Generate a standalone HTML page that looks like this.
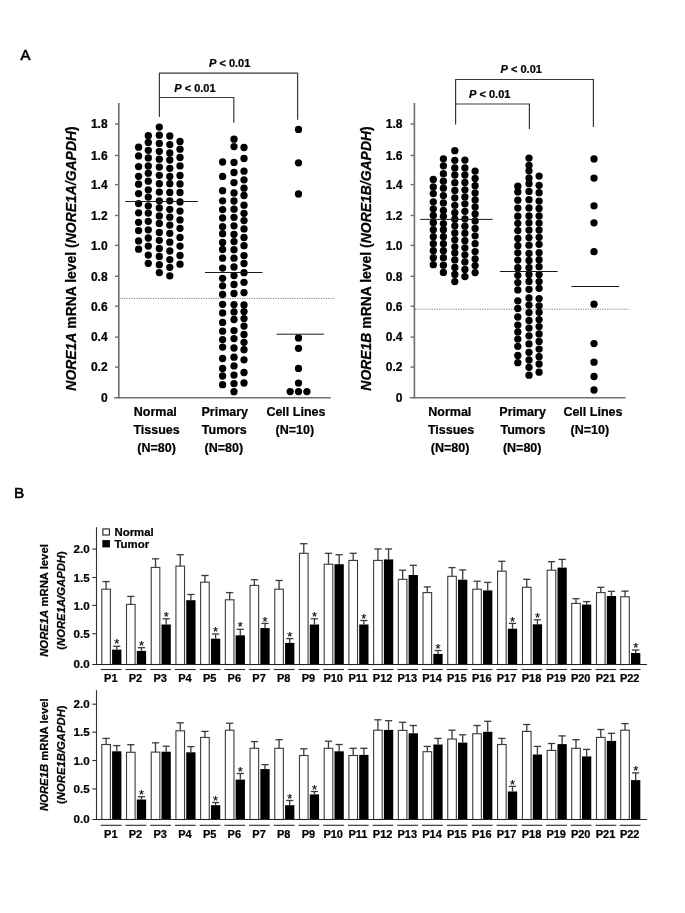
<!DOCTYPE html>
<html><head><meta charset="utf-8"><style>
html,body{margin:0;padding:0;background:#fff;}
svg{display:block;font-family:"Liberation Sans", sans-serif;will-change:transform;}
text{stroke:#000;stroke-width:0.22px;}
</style></head><body>
<svg width="685" height="913" viewBox="0 0 685 913">
<rect width="685" height="913" fill="#fff"/>
<text x="20.60" y="59.90" font-size="14.8" text-anchor="start" font-weight="normal" font-style="normal" style="stroke-width:0.65px">A</text>
<line x1="118.80" y1="103.00" x2="118.80" y2="398.40" stroke="#6e6e6e" stroke-width="1.6" />
<line x1="114.20" y1="397.70" x2="330.70" y2="397.70" stroke="#6e6e6e" stroke-width="1.6" />
<text x="107.60" y="401.60" font-size="12" text-anchor="end" font-weight="bold" font-style="normal" >0</text>
<line x1="115.00" y1="367.10" x2="118.80" y2="367.10" stroke="#6e6e6e" stroke-width="1.4" />
<text x="107.60" y="371.40" font-size="12" text-anchor="end" font-weight="bold" font-style="normal" >0.2</text>
<line x1="115.00" y1="337.10" x2="118.80" y2="337.10" stroke="#6e6e6e" stroke-width="1.4" />
<text x="107.60" y="341.40" font-size="12" text-anchor="end" font-weight="bold" font-style="normal" >0.4</text>
<line x1="115.00" y1="306.20" x2="118.80" y2="306.20" stroke="#6e6e6e" stroke-width="1.4" />
<text x="107.60" y="310.50" font-size="12" text-anchor="end" font-weight="bold" font-style="normal" >0.6</text>
<line x1="115.00" y1="276.30" x2="118.80" y2="276.30" stroke="#6e6e6e" stroke-width="1.4" />
<text x="107.60" y="280.60" font-size="12" text-anchor="end" font-weight="bold" font-style="normal" >0.8</text>
<line x1="115.00" y1="245.40" x2="118.80" y2="245.40" stroke="#6e6e6e" stroke-width="1.4" />
<text x="107.60" y="249.70" font-size="12" text-anchor="end" font-weight="bold" font-style="normal" >1.0</text>
<line x1="115.00" y1="215.50" x2="118.80" y2="215.50" stroke="#6e6e6e" stroke-width="1.4" />
<text x="107.60" y="219.80" font-size="12" text-anchor="end" font-weight="bold" font-style="normal" >1.2</text>
<line x1="115.00" y1="184.60" x2="118.80" y2="184.60" stroke="#6e6e6e" stroke-width="1.4" />
<text x="107.60" y="188.90" font-size="12" text-anchor="end" font-weight="bold" font-style="normal" >1.4</text>
<line x1="115.00" y1="155.50" x2="118.80" y2="155.50" stroke="#6e6e6e" stroke-width="1.4" />
<text x="107.60" y="159.80" font-size="12" text-anchor="end" font-weight="bold" font-style="normal" >1.6</text>
<line x1="115.00" y1="124.10" x2="118.80" y2="124.10" stroke="#6e6e6e" stroke-width="1.4" />
<text x="107.60" y="128.40" font-size="12" text-anchor="end" font-weight="bold" font-style="normal" >1.8</text>
<text transform="translate(75.8,258.5) rotate(-90)" font-size="13.95" text-anchor="middle" font-weight="bold"><tspan font-style="italic">NORE1A</tspan> mRNA level (<tspan font-style="italic">NORE1A/GAPDH</tspan>)</text>
<line x1="119.40" y1="298.40" x2="334.20" y2="298.40" stroke="#555" stroke-width="1" stroke-dasharray="1.2,1.2" opacity="0.75"/>
<polyline points="159.4,117 159.4,73.2 297.6,73.2 297.6,119.8" fill="none" stroke="#3a3a3a" stroke-width="1.2"/>
<text x="209" y="66.8" font-size="11" font-weight="bold"><tspan font-style="italic">P</tspan> &lt; 0.01</text>
<polyline points="159.4,97.5 159.4,97.5 233.8,97.5 233.8,122.7" fill="none" stroke="#3a3a3a" stroke-width="1.2"/>
<text x="174.3" y="91.8" font-size="11" font-weight="bold"><tspan font-style="italic">P</tspan> &lt; 0.01</text>
<g fill="#000">
<circle cx="138.60" cy="147.20" r="3.65"/>
<circle cx="138.60" cy="155.90" r="3.65"/>
<circle cx="138.60" cy="166.60" r="3.65"/>
<circle cx="138.60" cy="176.30" r="3.65"/>
<circle cx="138.60" cy="184.20" r="3.65"/>
<circle cx="138.60" cy="193.60" r="3.65"/>
<circle cx="138.60" cy="203.60" r="3.65"/>
<circle cx="138.60" cy="212.80" r="3.65"/>
<circle cx="138.60" cy="222.30" r="3.65"/>
<circle cx="138.60" cy="230.60" r="3.65"/>
<circle cx="138.60" cy="240.90" r="3.65"/>
<circle cx="138.60" cy="249.20" r="3.65"/>
<circle cx="148.30" cy="135.70" r="3.65"/>
<circle cx="148.30" cy="142.40" r="3.65"/>
<circle cx="148.30" cy="150.30" r="3.65"/>
<circle cx="148.30" cy="157.90" r="3.65"/>
<circle cx="148.30" cy="165.90" r="3.65"/>
<circle cx="148.30" cy="173.20" r="3.65"/>
<circle cx="148.30" cy="181.20" r="3.65"/>
<circle cx="148.30" cy="189.80" r="3.65"/>
<circle cx="148.30" cy="197.10" r="3.65"/>
<circle cx="148.30" cy="205.80" r="3.65"/>
<circle cx="148.30" cy="213.10" r="3.65"/>
<circle cx="148.30" cy="221.30" r="3.65"/>
<circle cx="148.30" cy="229.80" r="3.65"/>
<circle cx="148.30" cy="238.00" r="3.65"/>
<circle cx="148.30" cy="246.10" r="3.65"/>
<circle cx="148.30" cy="255.10" r="3.65"/>
<circle cx="148.30" cy="263.30" r="3.65"/>
<circle cx="159.30" cy="127.10" r="3.65"/>
<circle cx="159.30" cy="135.20" r="3.65"/>
<circle cx="159.30" cy="143.40" r="3.65"/>
<circle cx="159.30" cy="151.30" r="3.65"/>
<circle cx="159.30" cy="159.20" r="3.65"/>
<circle cx="159.30" cy="167.10" r="3.65"/>
<circle cx="159.30" cy="175.30" r="3.65"/>
<circle cx="159.30" cy="183.70" r="3.65"/>
<circle cx="159.30" cy="192.10" r="3.65"/>
<circle cx="159.30" cy="200.80" r="3.65"/>
<circle cx="159.30" cy="207.90" r="3.65"/>
<circle cx="159.30" cy="215.90" r="3.65"/>
<circle cx="159.30" cy="223.40" r="3.65"/>
<circle cx="159.30" cy="232.40" r="3.65"/>
<circle cx="159.30" cy="240.30" r="3.65"/>
<circle cx="159.30" cy="248.50" r="3.65"/>
<circle cx="159.30" cy="256.50" r="3.65"/>
<circle cx="159.30" cy="264.70" r="3.65"/>
<circle cx="159.30" cy="272.60" r="3.65"/>
<circle cx="169.80" cy="136.00" r="3.65"/>
<circle cx="169.80" cy="144.60" r="3.65"/>
<circle cx="169.80" cy="153.00" r="3.65"/>
<circle cx="169.80" cy="160.00" r="3.65"/>
<circle cx="169.80" cy="168.30" r="3.65"/>
<circle cx="169.80" cy="176.50" r="3.65"/>
<circle cx="169.80" cy="183.70" r="3.65"/>
<circle cx="169.80" cy="192.40" r="3.65"/>
<circle cx="169.80" cy="200.80" r="3.65"/>
<circle cx="169.80" cy="209.30" r="3.65"/>
<circle cx="169.80" cy="217.20" r="3.65"/>
<circle cx="169.80" cy="225.10" r="3.65"/>
<circle cx="169.80" cy="233.30" r="3.65"/>
<circle cx="169.80" cy="242.20" r="3.65"/>
<circle cx="169.80" cy="251.00" r="3.65"/>
<circle cx="169.80" cy="259.60" r="3.65"/>
<circle cx="169.80" cy="267.30" r="3.65"/>
<circle cx="169.80" cy="275.80" r="3.65"/>
<circle cx="180.00" cy="141.40" r="3.65"/>
<circle cx="180.00" cy="149.20" r="3.65"/>
<circle cx="180.00" cy="157.40" r="3.65"/>
<circle cx="180.00" cy="165.90" r="3.65"/>
<circle cx="180.00" cy="175.50" r="3.65"/>
<circle cx="180.00" cy="183.90" r="3.65"/>
<circle cx="180.00" cy="192.40" r="3.65"/>
<circle cx="180.00" cy="201.90" r="3.65"/>
<circle cx="180.00" cy="211.10" r="3.65"/>
<circle cx="180.00" cy="219.90" r="3.65"/>
<circle cx="180.00" cy="228.30" r="3.65"/>
<circle cx="180.00" cy="237.40" r="3.65"/>
<circle cx="180.00" cy="246.10" r="3.65"/>
<circle cx="180.00" cy="255.50" r="3.65"/>
<circle cx="180.00" cy="264.20" r="3.65"/>
<circle cx="222.60" cy="162.00" r="3.65"/>
<circle cx="222.60" cy="176.40" r="3.65"/>
<circle cx="222.60" cy="190.70" r="3.65"/>
<circle cx="222.60" cy="200.80" r="3.65"/>
<circle cx="222.60" cy="209.60" r="3.65"/>
<circle cx="222.60" cy="218.00" r="3.65"/>
<circle cx="222.60" cy="226.70" r="3.65"/>
<circle cx="222.60" cy="233.70" r="3.65"/>
<circle cx="222.60" cy="242.50" r="3.65"/>
<circle cx="222.60" cy="249.50" r="3.65"/>
<circle cx="222.60" cy="258.20" r="3.65"/>
<circle cx="222.60" cy="268.10" r="3.65"/>
<circle cx="222.60" cy="278.30" r="3.65"/>
<circle cx="222.60" cy="285.80" r="3.65"/>
<circle cx="222.60" cy="294.50" r="3.65"/>
<circle cx="222.60" cy="304.30" r="3.65"/>
<circle cx="222.60" cy="312.90" r="3.65"/>
<circle cx="222.60" cy="322.40" r="3.65"/>
<circle cx="222.60" cy="331.20" r="3.65"/>
<circle cx="222.60" cy="339.60" r="3.65"/>
<circle cx="222.60" cy="347.10" r="3.65"/>
<circle cx="222.60" cy="358.50" r="3.65"/>
<circle cx="222.60" cy="368.50" r="3.65"/>
<circle cx="222.60" cy="376.00" r="3.65"/>
<circle cx="222.60" cy="384.70" r="3.65"/>
<circle cx="234.00" cy="139.20" r="3.65"/>
<circle cx="234.00" cy="146.60" r="3.65"/>
<circle cx="234.00" cy="162.40" r="3.65"/>
<circle cx="234.00" cy="172.50" r="3.65"/>
<circle cx="234.00" cy="182.60" r="3.65"/>
<circle cx="234.00" cy="192.90" r="3.65"/>
<circle cx="234.00" cy="201.00" r="3.65"/>
<circle cx="234.00" cy="209.20" r="3.65"/>
<circle cx="234.00" cy="217.30" r="3.65"/>
<circle cx="234.00" cy="225.80" r="3.65"/>
<circle cx="234.00" cy="234.30" r="3.65"/>
<circle cx="234.00" cy="241.60" r="3.65"/>
<circle cx="234.00" cy="249.70" r="3.65"/>
<circle cx="234.00" cy="258.20" r="3.65"/>
<circle cx="234.00" cy="267.00" r="3.65"/>
<circle cx="234.00" cy="275.60" r="3.65"/>
<circle cx="234.00" cy="284.50" r="3.65"/>
<circle cx="234.00" cy="293.50" r="3.65"/>
<circle cx="234.00" cy="304.60" r="3.65"/>
<circle cx="234.00" cy="311.90" r="3.65"/>
<circle cx="234.00" cy="319.50" r="3.65"/>
<circle cx="234.00" cy="330.60" r="3.65"/>
<circle cx="234.00" cy="338.60" r="3.65"/>
<circle cx="234.00" cy="348.00" r="3.65"/>
<circle cx="234.00" cy="357.20" r="3.65"/>
<circle cx="234.00" cy="365.90" r="3.65"/>
<circle cx="234.00" cy="375.10" r="3.65"/>
<circle cx="234.00" cy="383.60" r="3.65"/>
<circle cx="234.00" cy="391.70" r="3.65"/>
<circle cx="244.00" cy="147.50" r="3.65"/>
<circle cx="244.00" cy="158.50" r="3.65"/>
<circle cx="244.00" cy="171.20" r="3.65"/>
<circle cx="244.00" cy="179.80" r="3.65"/>
<circle cx="244.00" cy="188.20" r="3.65"/>
<circle cx="244.00" cy="195.50" r="3.65"/>
<circle cx="244.00" cy="205.20" r="3.65"/>
<circle cx="244.00" cy="213.30" r="3.65"/>
<circle cx="244.00" cy="220.60" r="3.65"/>
<circle cx="244.00" cy="228.90" r="3.65"/>
<circle cx="244.00" cy="237.50" r="3.65"/>
<circle cx="244.00" cy="245.70" r="3.65"/>
<circle cx="244.00" cy="255.60" r="3.65"/>
<circle cx="244.00" cy="263.50" r="3.65"/>
<circle cx="244.00" cy="272.70" r="3.65"/>
<circle cx="244.00" cy="282.30" r="3.65"/>
<circle cx="244.00" cy="292.60" r="3.65"/>
<circle cx="244.00" cy="304.90" r="3.65"/>
<circle cx="244.00" cy="311.60" r="3.65"/>
<circle cx="244.00" cy="318.60" r="3.65"/>
<circle cx="244.00" cy="326.10" r="3.65"/>
<circle cx="244.00" cy="334.50" r="3.65"/>
<circle cx="244.00" cy="342.30" r="3.65"/>
<circle cx="244.00" cy="349.70" r="3.65"/>
<circle cx="244.00" cy="359.80" r="3.65"/>
<circle cx="244.00" cy="372.50" r="3.65"/>
<circle cx="244.00" cy="383.00" r="3.65"/>
<circle cx="298.50" cy="129.40" r="3.65"/>
<circle cx="298.50" cy="162.80" r="3.65"/>
<circle cx="298.50" cy="194.00" r="3.65"/>
<circle cx="298.50" cy="338.00" r="3.65"/>
<circle cx="298.50" cy="348.30" r="3.65"/>
<circle cx="298.50" cy="368.40" r="3.65"/>
<circle cx="298.50" cy="383.10" r="3.65"/>
<circle cx="298.50" cy="391.60" r="3.65"/>
<circle cx="290.20" cy="391.60" r="3.65"/>
<circle cx="306.90" cy="391.60" r="3.65"/>
</g>
<line x1="125.30" y1="201.50" x2="198.00" y2="201.50" stroke="#1a1a1a" stroke-width="1.0" />
<line x1="205.00" y1="272.50" x2="262.50" y2="272.50" stroke="#1a1a1a" stroke-width="1.0" />
<line x1="276.60" y1="334.20" x2="323.90" y2="334.20" stroke="#1a1a1a" stroke-width="1.0" />
<text x="155.30" y="415.80" font-size="12.5" text-anchor="middle" font-weight="bold" font-style="normal" >Normal</text>
<text x="156.60" y="434.10" font-size="12.5" text-anchor="middle" font-weight="bold" font-style="normal" >Tissues</text>
<text x="156.60" y="452.20" font-size="12.5" text-anchor="middle" font-weight="bold" font-style="normal" >(N=80)</text>
<text x="224.80" y="415.80" font-size="12.5" text-anchor="middle" font-weight="bold" font-style="normal" >Primary</text>
<text x="224.30" y="434.10" font-size="12.5" text-anchor="middle" font-weight="bold" font-style="normal" >Tumors</text>
<text x="223.80" y="452.20" font-size="12.5" text-anchor="middle" font-weight="bold" font-style="normal" >(N=80)</text>
<text x="295.90" y="415.80" font-size="12.5" text-anchor="middle" font-weight="bold" font-style="normal" >Cell Lines</text>
<text x="294.90" y="434.10" font-size="12.5" text-anchor="middle" font-weight="bold" font-style="normal" >(N=10)</text>
<line x1="414.40" y1="103.00" x2="414.40" y2="398.40" stroke="#6e6e6e" stroke-width="1.6" />
<line x1="409.80" y1="397.70" x2="625.60" y2="397.70" stroke="#6e6e6e" stroke-width="1.6" />
<text x="402.40" y="401.60" font-size="12" text-anchor="end" font-weight="bold" font-style="normal" >0</text>
<line x1="410.60" y1="367.10" x2="414.40" y2="367.10" stroke="#6e6e6e" stroke-width="1.4" />
<text x="402.40" y="371.40" font-size="12" text-anchor="end" font-weight="bold" font-style="normal" >0.2</text>
<line x1="410.60" y1="337.10" x2="414.40" y2="337.10" stroke="#6e6e6e" stroke-width="1.4" />
<text x="402.40" y="341.40" font-size="12" text-anchor="end" font-weight="bold" font-style="normal" >0.4</text>
<line x1="410.60" y1="306.20" x2="414.40" y2="306.20" stroke="#6e6e6e" stroke-width="1.4" />
<text x="402.40" y="310.50" font-size="12" text-anchor="end" font-weight="bold" font-style="normal" >0.6</text>
<line x1="410.60" y1="276.30" x2="414.40" y2="276.30" stroke="#6e6e6e" stroke-width="1.4" />
<text x="402.40" y="280.60" font-size="12" text-anchor="end" font-weight="bold" font-style="normal" >0.8</text>
<line x1="410.60" y1="245.40" x2="414.40" y2="245.40" stroke="#6e6e6e" stroke-width="1.4" />
<text x="402.40" y="249.70" font-size="12" text-anchor="end" font-weight="bold" font-style="normal" >1.0</text>
<line x1="410.60" y1="215.50" x2="414.40" y2="215.50" stroke="#6e6e6e" stroke-width="1.4" />
<text x="402.40" y="219.80" font-size="12" text-anchor="end" font-weight="bold" font-style="normal" >1.2</text>
<line x1="410.60" y1="184.60" x2="414.40" y2="184.60" stroke="#6e6e6e" stroke-width="1.4" />
<text x="402.40" y="188.90" font-size="12" text-anchor="end" font-weight="bold" font-style="normal" >1.4</text>
<line x1="410.60" y1="155.50" x2="414.40" y2="155.50" stroke="#6e6e6e" stroke-width="1.4" />
<text x="402.40" y="159.80" font-size="12" text-anchor="end" font-weight="bold" font-style="normal" >1.6</text>
<line x1="410.60" y1="124.10" x2="414.40" y2="124.10" stroke="#6e6e6e" stroke-width="1.4" />
<text x="402.40" y="128.40" font-size="12" text-anchor="end" font-weight="bold" font-style="normal" >1.8</text>
<text transform="translate(370.6,258.5) rotate(-90)" font-size="13.95" text-anchor="middle" font-weight="bold"><tspan font-style="italic">NORE1B</tspan> mRNA level (<tspan font-style="italic">NORE1B/GAPDH</tspan>)</text>
<line x1="415.00" y1="309.20" x2="629.30" y2="309.20" stroke="#555" stroke-width="1" stroke-dasharray="1.2,1.2" opacity="0.75"/>
<polyline points="455.6,124.5 455.6,79.5 593.4,79.5 593.4,127" fill="none" stroke="#3a3a3a" stroke-width="1.2"/>
<text x="500.6" y="72.9" font-size="11" font-weight="bold"><tspan font-style="italic">P</tspan> &lt; 0.01</text>
<polyline points="455.6,104 455.6,104 529.4,104 529.4,129" fill="none" stroke="#3a3a3a" stroke-width="1.2"/>
<text x="469.1" y="97.7" font-size="11" font-weight="bold"><tspan font-style="italic">P</tspan> &lt; 0.01</text>
<g fill="#000">
<circle cx="433.30" cy="179.40" r="3.65"/>
<circle cx="433.30" cy="186.90" r="3.65"/>
<circle cx="433.30" cy="193.60" r="3.65"/>
<circle cx="433.30" cy="201.80" r="3.65"/>
<circle cx="433.30" cy="208.80" r="3.65"/>
<circle cx="433.30" cy="215.40" r="3.65"/>
<circle cx="433.30" cy="222.70" r="3.65"/>
<circle cx="433.30" cy="229.70" r="3.65"/>
<circle cx="433.30" cy="236.70" r="3.65"/>
<circle cx="433.30" cy="243.70" r="3.65"/>
<circle cx="433.30" cy="250.70" r="3.65"/>
<circle cx="433.30" cy="257.70" r="3.65"/>
<circle cx="433.30" cy="264.70" r="3.65"/>
<circle cx="443.40" cy="158.80" r="3.65"/>
<circle cx="443.40" cy="165.80" r="3.65"/>
<circle cx="443.40" cy="173.70" r="3.65"/>
<circle cx="443.40" cy="181.20" r="3.65"/>
<circle cx="443.40" cy="188.20" r="3.65"/>
<circle cx="443.40" cy="195.60" r="3.65"/>
<circle cx="443.40" cy="202.90" r="3.65"/>
<circle cx="443.40" cy="210.50" r="3.65"/>
<circle cx="443.40" cy="216.30" r="3.65"/>
<circle cx="443.40" cy="223.60" r="3.65"/>
<circle cx="443.40" cy="229.70" r="3.65"/>
<circle cx="443.40" cy="236.70" r="3.65"/>
<circle cx="443.40" cy="243.70" r="3.65"/>
<circle cx="443.40" cy="250.70" r="3.65"/>
<circle cx="443.40" cy="257.70" r="3.65"/>
<circle cx="443.40" cy="265.20" r="3.65"/>
<circle cx="443.40" cy="272.40" r="3.65"/>
<circle cx="454.80" cy="150.70" r="3.65"/>
<circle cx="454.80" cy="160.30" r="3.65"/>
<circle cx="454.80" cy="167.90" r="3.65"/>
<circle cx="454.80" cy="175.00" r="3.65"/>
<circle cx="454.80" cy="182.70" r="3.65"/>
<circle cx="454.80" cy="190.40" r="3.65"/>
<circle cx="454.80" cy="197.80" r="3.65"/>
<circle cx="454.80" cy="205.30" r="3.65"/>
<circle cx="454.80" cy="212.70" r="3.65"/>
<circle cx="454.80" cy="219.20" r="3.65"/>
<circle cx="454.80" cy="225.80" r="3.65"/>
<circle cx="454.80" cy="233.00" r="3.65"/>
<circle cx="454.80" cy="239.80" r="3.65"/>
<circle cx="454.80" cy="246.80" r="3.65"/>
<circle cx="454.80" cy="252.90" r="3.65"/>
<circle cx="454.80" cy="259.90" r="3.65"/>
<circle cx="454.80" cy="267.40" r="3.65"/>
<circle cx="454.80" cy="274.40" r="3.65"/>
<circle cx="454.80" cy="281.60" r="3.65"/>
<circle cx="464.90" cy="160.10" r="3.65"/>
<circle cx="464.90" cy="167.90" r="3.65"/>
<circle cx="464.90" cy="175.00" r="3.65"/>
<circle cx="464.90" cy="182.50" r="3.65"/>
<circle cx="464.90" cy="189.80" r="3.65"/>
<circle cx="464.90" cy="196.90" r="3.65"/>
<circle cx="464.90" cy="203.80" r="3.65"/>
<circle cx="464.90" cy="211.30" r="3.65"/>
<circle cx="464.90" cy="218.80" r="3.65"/>
<circle cx="464.90" cy="226.20" r="3.65"/>
<circle cx="464.90" cy="233.20" r="3.65"/>
<circle cx="464.90" cy="240.70" r="3.65"/>
<circle cx="464.90" cy="247.80" r="3.65"/>
<circle cx="464.90" cy="254.80" r="3.65"/>
<circle cx="464.90" cy="261.90" r="3.65"/>
<circle cx="464.90" cy="269.40" r="3.65"/>
<circle cx="464.90" cy="276.60" r="3.65"/>
<circle cx="475.10" cy="171.10" r="3.65"/>
<circle cx="475.10" cy="178.50" r="3.65"/>
<circle cx="475.10" cy="185.70" r="3.65"/>
<circle cx="475.10" cy="193.00" r="3.65"/>
<circle cx="475.10" cy="200.00" r="3.65"/>
<circle cx="475.10" cy="207.00" r="3.65"/>
<circle cx="475.10" cy="214.00" r="3.65"/>
<circle cx="475.10" cy="220.90" r="3.65"/>
<circle cx="475.10" cy="228.40" r="3.65"/>
<circle cx="475.10" cy="235.80" r="3.65"/>
<circle cx="475.10" cy="243.70" r="3.65"/>
<circle cx="475.10" cy="251.60" r="3.65"/>
<circle cx="475.10" cy="259.00" r="3.65"/>
<circle cx="475.10" cy="265.60" r="3.65"/>
<circle cx="475.10" cy="272.60" r="3.65"/>
<circle cx="517.80" cy="186.20" r="3.65"/>
<circle cx="517.80" cy="191.90" r="3.65"/>
<circle cx="517.80" cy="200.20" r="3.65"/>
<circle cx="517.80" cy="208.10" r="3.65"/>
<circle cx="517.80" cy="216.20" r="3.65"/>
<circle cx="517.80" cy="223.30" r="3.65"/>
<circle cx="517.80" cy="230.60" r="3.65"/>
<circle cx="517.80" cy="238.50" r="3.65"/>
<circle cx="517.80" cy="245.70" r="3.65"/>
<circle cx="517.80" cy="252.80" r="3.65"/>
<circle cx="517.80" cy="260.10" r="3.65"/>
<circle cx="517.80" cy="267.70" r="3.65"/>
<circle cx="517.80" cy="275.30" r="3.65"/>
<circle cx="517.80" cy="282.60" r="3.65"/>
<circle cx="517.80" cy="289.90" r="3.65"/>
<circle cx="517.80" cy="300.80" r="3.65"/>
<circle cx="517.80" cy="308.50" r="3.65"/>
<circle cx="517.80" cy="317.00" r="3.65"/>
<circle cx="517.80" cy="325.10" r="3.65"/>
<circle cx="517.80" cy="331.90" r="3.65"/>
<circle cx="517.80" cy="339.10" r="3.65"/>
<circle cx="517.80" cy="346.30" r="3.65"/>
<circle cx="517.80" cy="355.50" r="3.65"/>
<circle cx="517.80" cy="362.70" r="3.65"/>
<circle cx="529.00" cy="158.10" r="3.65"/>
<circle cx="529.00" cy="165.30" r="3.65"/>
<circle cx="529.00" cy="170.80" r="3.65"/>
<circle cx="529.00" cy="178.10" r="3.65"/>
<circle cx="529.00" cy="183.70" r="3.65"/>
<circle cx="529.00" cy="191.40" r="3.65"/>
<circle cx="529.00" cy="199.70" r="3.65"/>
<circle cx="529.00" cy="207.90" r="3.65"/>
<circle cx="529.00" cy="215.90" r="3.65"/>
<circle cx="529.00" cy="222.80" r="3.65"/>
<circle cx="529.00" cy="230.10" r="3.65"/>
<circle cx="529.00" cy="237.60" r="3.65"/>
<circle cx="529.00" cy="245.20" r="3.65"/>
<circle cx="529.00" cy="253.40" r="3.65"/>
<circle cx="529.00" cy="260.50" r="3.65"/>
<circle cx="529.00" cy="267.70" r="3.65"/>
<circle cx="529.00" cy="274.60" r="3.65"/>
<circle cx="529.00" cy="281.40" r="3.65"/>
<circle cx="529.00" cy="289.30" r="3.65"/>
<circle cx="529.00" cy="298.00" r="3.65"/>
<circle cx="529.00" cy="305.10" r="3.65"/>
<circle cx="529.00" cy="312.60" r="3.65"/>
<circle cx="529.00" cy="320.50" r="3.65"/>
<circle cx="529.00" cy="328.10" r="3.65"/>
<circle cx="529.00" cy="335.80" r="3.65"/>
<circle cx="529.00" cy="343.90" r="3.65"/>
<circle cx="529.00" cy="352.30" r="3.65"/>
<circle cx="529.00" cy="360.00" r="3.65"/>
<circle cx="529.00" cy="367.30" r="3.65"/>
<circle cx="529.00" cy="375.20" r="3.65"/>
<circle cx="539.10" cy="176.10" r="3.65"/>
<circle cx="539.10" cy="185.30" r="3.65"/>
<circle cx="539.10" cy="192.70" r="3.65"/>
<circle cx="539.10" cy="201.10" r="3.65"/>
<circle cx="539.10" cy="208.50" r="3.65"/>
<circle cx="539.10" cy="215.90" r="3.65"/>
<circle cx="539.10" cy="223.10" r="3.65"/>
<circle cx="539.10" cy="230.10" r="3.65"/>
<circle cx="539.10" cy="237.30" r="3.65"/>
<circle cx="539.10" cy="244.30" r="3.65"/>
<circle cx="539.10" cy="252.70" r="3.65"/>
<circle cx="539.10" cy="259.70" r="3.65"/>
<circle cx="539.10" cy="266.70" r="3.65"/>
<circle cx="539.10" cy="274.60" r="3.65"/>
<circle cx="539.10" cy="281.60" r="3.65"/>
<circle cx="539.10" cy="288.30" r="3.65"/>
<circle cx="539.10" cy="298.60" r="3.65"/>
<circle cx="539.10" cy="305.80" r="3.65"/>
<circle cx="539.10" cy="312.30" r="3.65"/>
<circle cx="539.10" cy="319.60" r="3.65"/>
<circle cx="539.10" cy="326.60" r="3.65"/>
<circle cx="539.10" cy="333.90" r="3.65"/>
<circle cx="539.10" cy="341.50" r="3.65"/>
<circle cx="539.10" cy="349.10" r="3.65"/>
<circle cx="539.10" cy="356.70" r="3.65"/>
<circle cx="539.10" cy="364.00" r="3.65"/>
<circle cx="539.10" cy="372.20" r="3.65"/>
<circle cx="594.00" cy="158.90" r="3.65"/>
<circle cx="594.00" cy="178.10" r="3.65"/>
<circle cx="594.00" cy="205.80" r="3.65"/>
<circle cx="594.00" cy="222.80" r="3.65"/>
<circle cx="594.00" cy="251.70" r="3.65"/>
<circle cx="594.00" cy="304.20" r="3.65"/>
<circle cx="594.00" cy="343.60" r="3.65"/>
<circle cx="594.00" cy="362.20" r="3.65"/>
<circle cx="594.00" cy="376.50" r="3.65"/>
<circle cx="594.00" cy="390.00" r="3.65"/>
</g>
<line x1="420.20" y1="219.40" x2="492.60" y2="219.40" stroke="#1a1a1a" stroke-width="1.0" />
<line x1="499.90" y1="271.50" x2="557.60" y2="271.50" stroke="#1a1a1a" stroke-width="1.0" />
<line x1="571.40" y1="286.50" x2="619.10" y2="286.50" stroke="#1a1a1a" stroke-width="1.0" />
<text x="449.80" y="415.80" font-size="12.5" text-anchor="middle" font-weight="bold" font-style="normal" >Normal</text>
<text x="451.10" y="434.10" font-size="12.5" text-anchor="middle" font-weight="bold" font-style="normal" >Tissues</text>
<text x="450.10" y="452.20" font-size="12.5" text-anchor="middle" font-weight="bold" font-style="normal" >(N=80)</text>
<text x="522.60" y="415.80" font-size="12.5" text-anchor="middle" font-weight="bold" font-style="normal" >Primary</text>
<text x="522.90" y="434.10" font-size="12.5" text-anchor="middle" font-weight="bold" font-style="normal" >Tumors</text>
<text x="522.20" y="452.20" font-size="12.5" text-anchor="middle" font-weight="bold" font-style="normal" >(N=80)</text>
<text x="592.90" y="415.80" font-size="12.5" text-anchor="middle" font-weight="bold" font-style="normal" >Cell Lines</text>
<text x="589.80" y="434.10" font-size="12.5" text-anchor="middle" font-weight="bold" font-style="normal" >(N=10)</text>
<text x="14.00" y="497.70" font-size="15.4" text-anchor="start" font-weight="normal" font-style="normal" style="stroke-width:0.6px">B</text>
<line x1="92.30" y1="549.10" x2="96.50" y2="549.10" stroke="#333" stroke-width="1.1" />
<text x="89.60" y="553.30" font-size="11.6" text-anchor="end" font-weight="bold" font-style="normal" >2.0</text>
<line x1="92.30" y1="577.50" x2="96.50" y2="577.50" stroke="#333" stroke-width="1.1" />
<text x="89.60" y="581.70" font-size="11.6" text-anchor="end" font-weight="bold" font-style="normal" >1.5</text>
<line x1="92.30" y1="605.40" x2="96.50" y2="605.40" stroke="#333" stroke-width="1.1" />
<text x="89.60" y="609.60" font-size="11.6" text-anchor="end" font-weight="bold" font-style="normal" >1.0</text>
<line x1="92.30" y1="633.70" x2="96.50" y2="633.70" stroke="#333" stroke-width="1.1" />
<text x="89.60" y="637.90" font-size="11.6" text-anchor="end" font-weight="bold" font-style="normal" >0.5</text>
<text x="89.60" y="667.80" font-size="11.6" text-anchor="end" font-weight="bold" font-style="normal" >0.0</text>
<rect x="101.80" y="589.20" width="8.6" height="75.30" fill="#fff" stroke="#3a3a3a" stroke-width="1.1"/>
<line x1="106.10" y1="589.20" x2="106.10" y2="581.60" stroke="#3a3a3a" stroke-width="1.3" />
<line x1="102.50" y1="581.60" x2="109.70" y2="581.60" stroke="#3a3a3a" stroke-width="1.3" />
<rect x="112.10" y="649.60" width="9.3" height="14.90" fill="#000"/>
<line x1="116.75" y1="649.60" x2="116.75" y2="646.30" stroke="#3a3a3a" stroke-width="1.3" />
<line x1="113.15" y1="646.30" x2="120.35" y2="646.30" stroke="#3a3a3a" stroke-width="1.3" />
<text x="116.75" y="648.40" font-size="12.8" text-anchor="middle" fill="#111" stroke="#111" stroke-width="0.2">*</text>
<line x1="100.80" y1="669.50" x2="121.60" y2="669.50" stroke="#2a2a2a" stroke-width="1.1" />
<text x="110.80" y="681.70" font-size="11.0" text-anchor="middle" font-weight="bold" font-style="normal" >P1</text>
<rect x="126.51" y="604.40" width="8.6" height="60.10" fill="#fff" stroke="#3a3a3a" stroke-width="1.1"/>
<line x1="130.81" y1="604.40" x2="130.81" y2="596.40" stroke="#3a3a3a" stroke-width="1.3" />
<line x1="127.21" y1="596.40" x2="134.41" y2="596.40" stroke="#3a3a3a" stroke-width="1.3" />
<rect x="136.81" y="650.90" width="9.3" height="13.60" fill="#000"/>
<line x1="141.46" y1="650.90" x2="141.46" y2="647.70" stroke="#3a3a3a" stroke-width="1.3" />
<line x1="137.86" y1="647.70" x2="145.06" y2="647.70" stroke="#3a3a3a" stroke-width="1.3" />
<text x="141.46" y="649.80" font-size="12.8" text-anchor="middle" fill="#111" stroke="#111" stroke-width="0.2">*</text>
<line x1="125.51" y1="669.50" x2="146.31" y2="669.50" stroke="#2a2a2a" stroke-width="1.1" />
<text x="135.51" y="681.70" font-size="11.0" text-anchor="middle" font-weight="bold" font-style="normal" >P2</text>
<rect x="151.22" y="567.40" width="8.6" height="97.10" fill="#fff" stroke="#3a3a3a" stroke-width="1.1"/>
<line x1="155.52" y1="567.40" x2="155.52" y2="558.80" stroke="#3a3a3a" stroke-width="1.3" />
<line x1="151.92" y1="558.80" x2="159.12" y2="558.80" stroke="#3a3a3a" stroke-width="1.3" />
<rect x="161.52" y="624.50" width="9.3" height="40.00" fill="#000"/>
<line x1="166.17" y1="624.50" x2="166.17" y2="618.80" stroke="#3a3a3a" stroke-width="1.3" />
<line x1="162.57" y1="618.80" x2="169.77" y2="618.80" stroke="#3a3a3a" stroke-width="1.3" />
<text x="166.17" y="620.90" font-size="12.8" text-anchor="middle" fill="#111" stroke="#111" stroke-width="0.2">*</text>
<line x1="150.22" y1="669.50" x2="171.02" y2="669.50" stroke="#2a2a2a" stroke-width="1.1" />
<text x="160.22" y="681.70" font-size="11.0" text-anchor="middle" font-weight="bold" font-style="normal" >P3</text>
<rect x="175.93" y="566.10" width="8.6" height="98.40" fill="#fff" stroke="#3a3a3a" stroke-width="1.1"/>
<line x1="180.23" y1="566.10" x2="180.23" y2="554.70" stroke="#3a3a3a" stroke-width="1.3" />
<line x1="176.63" y1="554.70" x2="183.83" y2="554.70" stroke="#3a3a3a" stroke-width="1.3" />
<rect x="186.23" y="600.20" width="9.3" height="64.30" fill="#000"/>
<line x1="190.88" y1="600.20" x2="190.88" y2="594.50" stroke="#3a3a3a" stroke-width="1.3" />
<line x1="187.28" y1="594.50" x2="194.48" y2="594.50" stroke="#3a3a3a" stroke-width="1.3" />
<line x1="174.93" y1="669.50" x2="195.73" y2="669.50" stroke="#2a2a2a" stroke-width="1.1" />
<text x="184.93" y="681.70" font-size="11.0" text-anchor="middle" font-weight="bold" font-style="normal" >P4</text>
<rect x="200.64" y="582.20" width="8.6" height="82.30" fill="#fff" stroke="#3a3a3a" stroke-width="1.1"/>
<line x1="204.94" y1="582.20" x2="204.94" y2="575.50" stroke="#3a3a3a" stroke-width="1.3" />
<line x1="201.34" y1="575.50" x2="208.54" y2="575.50" stroke="#3a3a3a" stroke-width="1.3" />
<rect x="210.94" y="638.70" width="9.3" height="25.80" fill="#000"/>
<line x1="215.59" y1="638.70" x2="215.59" y2="634.00" stroke="#3a3a3a" stroke-width="1.3" />
<line x1="211.99" y1="634.00" x2="219.19" y2="634.00" stroke="#3a3a3a" stroke-width="1.3" />
<text x="215.59" y="636.10" font-size="12.8" text-anchor="middle" fill="#111" stroke="#111" stroke-width="0.2">*</text>
<line x1="199.64" y1="669.50" x2="220.44" y2="669.50" stroke="#2a2a2a" stroke-width="1.1" />
<text x="209.64" y="681.70" font-size="11.0" text-anchor="middle" font-weight="bold" font-style="normal" >P5</text>
<rect x="225.35" y="599.80" width="8.6" height="64.70" fill="#fff" stroke="#3a3a3a" stroke-width="1.1"/>
<line x1="229.65" y1="599.80" x2="229.65" y2="592.60" stroke="#3a3a3a" stroke-width="1.3" />
<line x1="226.05" y1="592.60" x2="233.25" y2="592.60" stroke="#3a3a3a" stroke-width="1.3" />
<rect x="235.65" y="635.30" width="9.3" height="29.20" fill="#000"/>
<line x1="240.30" y1="635.30" x2="240.30" y2="629.30" stroke="#3a3a3a" stroke-width="1.3" />
<line x1="236.70" y1="629.30" x2="243.90" y2="629.30" stroke="#3a3a3a" stroke-width="1.3" />
<text x="240.30" y="631.40" font-size="12.8" text-anchor="middle" fill="#111" stroke="#111" stroke-width="0.2">*</text>
<line x1="224.35" y1="669.50" x2="245.15" y2="669.50" stroke="#2a2a2a" stroke-width="1.1" />
<text x="234.35" y="681.70" font-size="11.0" text-anchor="middle" font-weight="bold" font-style="normal" >P6</text>
<rect x="250.06" y="585.40" width="8.6" height="79.10" fill="#fff" stroke="#3a3a3a" stroke-width="1.1"/>
<line x1="254.36" y1="585.40" x2="254.36" y2="579.70" stroke="#3a3a3a" stroke-width="1.3" />
<line x1="250.76" y1="579.70" x2="257.96" y2="579.70" stroke="#3a3a3a" stroke-width="1.3" />
<rect x="260.36" y="628.10" width="9.3" height="36.40" fill="#000"/>
<line x1="265.01" y1="628.10" x2="265.01" y2="623.40" stroke="#3a3a3a" stroke-width="1.3" />
<line x1="261.41" y1="623.40" x2="268.61" y2="623.40" stroke="#3a3a3a" stroke-width="1.3" />
<text x="265.01" y="625.50" font-size="12.8" text-anchor="middle" fill="#111" stroke="#111" stroke-width="0.2">*</text>
<line x1="249.06" y1="669.50" x2="269.86" y2="669.50" stroke="#2a2a2a" stroke-width="1.1" />
<text x="259.06" y="681.70" font-size="11.0" text-anchor="middle" font-weight="bold" font-style="normal" >P7</text>
<rect x="274.77" y="589.20" width="8.6" height="75.30" fill="#fff" stroke="#3a3a3a" stroke-width="1.1"/>
<line x1="279.07" y1="589.20" x2="279.07" y2="580.50" stroke="#3a3a3a" stroke-width="1.3" />
<line x1="275.47" y1="580.50" x2="282.67" y2="580.50" stroke="#3a3a3a" stroke-width="1.3" />
<rect x="285.07" y="642.90" width="9.3" height="21.60" fill="#000"/>
<line x1="289.72" y1="642.90" x2="289.72" y2="638.60" stroke="#3a3a3a" stroke-width="1.3" />
<line x1="286.12" y1="638.60" x2="293.32" y2="638.60" stroke="#3a3a3a" stroke-width="1.3" />
<text x="289.72" y="640.70" font-size="12.8" text-anchor="middle" fill="#111" stroke="#111" stroke-width="0.2">*</text>
<line x1="273.77" y1="669.50" x2="294.57" y2="669.50" stroke="#2a2a2a" stroke-width="1.1" />
<text x="283.77" y="681.70" font-size="11.0" text-anchor="middle" font-weight="bold" font-style="normal" >P8</text>
<rect x="299.48" y="553.30" width="8.6" height="111.20" fill="#fff" stroke="#3a3a3a" stroke-width="1.1"/>
<line x1="303.78" y1="553.30" x2="303.78" y2="543.70" stroke="#3a3a3a" stroke-width="1.3" />
<line x1="300.18" y1="543.70" x2="307.38" y2="543.70" stroke="#3a3a3a" stroke-width="1.3" />
<rect x="309.78" y="624.50" width="9.3" height="40.00" fill="#000"/>
<line x1="314.43" y1="624.50" x2="314.43" y2="618.80" stroke="#3a3a3a" stroke-width="1.3" />
<line x1="310.83" y1="618.80" x2="318.03" y2="618.80" stroke="#3a3a3a" stroke-width="1.3" />
<text x="314.43" y="620.90" font-size="12.8" text-anchor="middle" fill="#111" stroke="#111" stroke-width="0.2">*</text>
<line x1="298.48" y1="669.50" x2="319.28" y2="669.50" stroke="#2a2a2a" stroke-width="1.1" />
<text x="308.48" y="681.70" font-size="11.0" text-anchor="middle" font-weight="bold" font-style="normal" >P9</text>
<rect x="324.19" y="564.20" width="8.6" height="100.30" fill="#fff" stroke="#3a3a3a" stroke-width="1.1"/>
<line x1="328.49" y1="564.20" x2="328.49" y2="553.30" stroke="#3a3a3a" stroke-width="1.3" />
<line x1="324.89" y1="553.30" x2="332.09" y2="553.30" stroke="#3a3a3a" stroke-width="1.3" />
<rect x="334.49" y="564.20" width="9.3" height="100.30" fill="#000"/>
<line x1="339.14" y1="564.20" x2="339.14" y2="554.70" stroke="#3a3a3a" stroke-width="1.3" />
<line x1="335.54" y1="554.70" x2="342.74" y2="554.70" stroke="#3a3a3a" stroke-width="1.3" />
<line x1="323.19" y1="669.50" x2="343.99" y2="669.50" stroke="#2a2a2a" stroke-width="1.1" />
<text x="333.19" y="681.70" font-size="11.0" text-anchor="middle" font-weight="bold" font-style="normal" >P10</text>
<rect x="348.90" y="560.40" width="8.6" height="104.10" fill="#fff" stroke="#3a3a3a" stroke-width="1.1"/>
<line x1="353.20" y1="560.40" x2="353.20" y2="553.30" stroke="#3a3a3a" stroke-width="1.3" />
<line x1="349.60" y1="553.30" x2="356.80" y2="553.30" stroke="#3a3a3a" stroke-width="1.3" />
<rect x="359.20" y="624.50" width="9.3" height="40.00" fill="#000"/>
<line x1="363.85" y1="624.50" x2="363.85" y2="620.50" stroke="#3a3a3a" stroke-width="1.3" />
<line x1="360.25" y1="620.50" x2="367.45" y2="620.50" stroke="#3a3a3a" stroke-width="1.3" />
<text x="363.85" y="622.60" font-size="12.8" text-anchor="middle" fill="#111" stroke="#111" stroke-width="0.2">*</text>
<line x1="347.90" y1="669.50" x2="368.70" y2="669.50" stroke="#2a2a2a" stroke-width="1.1" />
<text x="357.90" y="681.70" font-size="11.0" text-anchor="middle" font-weight="bold" font-style="normal" >P11</text>
<rect x="373.61" y="560.40" width="8.6" height="104.10" fill="#fff" stroke="#3a3a3a" stroke-width="1.1"/>
<line x1="377.91" y1="560.40" x2="377.91" y2="549.00" stroke="#3a3a3a" stroke-width="1.3" />
<line x1="374.31" y1="549.00" x2="381.51" y2="549.00" stroke="#3a3a3a" stroke-width="1.3" />
<rect x="383.91" y="559.40" width="9.3" height="105.10" fill="#000"/>
<line x1="388.56" y1="559.40" x2="388.56" y2="549.00" stroke="#3a3a3a" stroke-width="1.3" />
<line x1="384.96" y1="549.00" x2="392.16" y2="549.00" stroke="#3a3a3a" stroke-width="1.3" />
<line x1="372.61" y1="669.50" x2="393.41" y2="669.50" stroke="#2a2a2a" stroke-width="1.1" />
<text x="382.61" y="681.70" font-size="11.0" text-anchor="middle" font-weight="bold" font-style="normal" >P12</text>
<rect x="398.32" y="579.30" width="8.6" height="85.20" fill="#fff" stroke="#3a3a3a" stroke-width="1.1"/>
<line x1="402.62" y1="579.30" x2="402.62" y2="570.20" stroke="#3a3a3a" stroke-width="1.3" />
<line x1="399.02" y1="570.20" x2="406.22" y2="570.20" stroke="#3a3a3a" stroke-width="1.3" />
<rect x="408.62" y="575.00" width="9.3" height="89.50" fill="#000"/>
<line x1="413.27" y1="575.00" x2="413.27" y2="565.30" stroke="#3a3a3a" stroke-width="1.3" />
<line x1="409.67" y1="565.30" x2="416.87" y2="565.30" stroke="#3a3a3a" stroke-width="1.3" />
<line x1="397.32" y1="669.50" x2="418.12" y2="669.50" stroke="#2a2a2a" stroke-width="1.1" />
<text x="407.32" y="681.70" font-size="11.0" text-anchor="middle" font-weight="bold" font-style="normal" >P13</text>
<rect x="423.03" y="592.60" width="8.6" height="71.90" fill="#fff" stroke="#3a3a3a" stroke-width="1.1"/>
<line x1="427.33" y1="592.60" x2="427.33" y2="586.90" stroke="#3a3a3a" stroke-width="1.3" />
<line x1="423.73" y1="586.90" x2="430.93" y2="586.90" stroke="#3a3a3a" stroke-width="1.3" />
<rect x="433.33" y="653.90" width="9.3" height="10.60" fill="#000"/>
<line x1="437.98" y1="653.90" x2="437.98" y2="650.50" stroke="#3a3a3a" stroke-width="1.3" />
<line x1="434.38" y1="650.50" x2="441.58" y2="650.50" stroke="#3a3a3a" stroke-width="1.3" />
<text x="437.98" y="652.60" font-size="12.8" text-anchor="middle" fill="#111" stroke="#111" stroke-width="0.2">*</text>
<line x1="422.03" y1="669.50" x2="442.83" y2="669.50" stroke="#2a2a2a" stroke-width="1.1" />
<text x="432.03" y="681.70" font-size="11.0" text-anchor="middle" font-weight="bold" font-style="normal" >P14</text>
<rect x="447.74" y="576.30" width="8.6" height="88.20" fill="#fff" stroke="#3a3a3a" stroke-width="1.1"/>
<line x1="452.04" y1="576.30" x2="452.04" y2="567.60" stroke="#3a3a3a" stroke-width="1.3" />
<line x1="448.44" y1="567.60" x2="455.64" y2="567.60" stroke="#3a3a3a" stroke-width="1.3" />
<rect x="458.04" y="579.70" width="9.3" height="84.80" fill="#000"/>
<line x1="462.69" y1="579.70" x2="462.69" y2="569.90" stroke="#3a3a3a" stroke-width="1.3" />
<line x1="459.09" y1="569.90" x2="466.29" y2="569.90" stroke="#3a3a3a" stroke-width="1.3" />
<line x1="446.74" y1="669.50" x2="467.54" y2="669.50" stroke="#2a2a2a" stroke-width="1.1" />
<text x="456.74" y="681.70" font-size="11.0" text-anchor="middle" font-weight="bold" font-style="normal" >P15</text>
<rect x="472.75" y="589.20" width="8.6" height="75.30" fill="#fff" stroke="#3a3a3a" stroke-width="1.1"/>
<line x1="477.05" y1="589.20" x2="477.05" y2="581.20" stroke="#3a3a3a" stroke-width="1.3" />
<line x1="473.45" y1="581.20" x2="480.65" y2="581.20" stroke="#3a3a3a" stroke-width="1.3" />
<rect x="483.05" y="590.40" width="9.3" height="74.10" fill="#000"/>
<line x1="487.70" y1="590.40" x2="487.70" y2="582.40" stroke="#3a3a3a" stroke-width="1.3" />
<line x1="484.10" y1="582.40" x2="491.30" y2="582.40" stroke="#3a3a3a" stroke-width="1.3" />
<line x1="471.75" y1="669.50" x2="492.55" y2="669.50" stroke="#2a2a2a" stroke-width="1.1" />
<text x="481.75" y="681.70" font-size="11.0" text-anchor="middle" font-weight="bold" font-style="normal" >P16</text>
<rect x="497.56" y="571.20" width="8.6" height="93.30" fill="#fff" stroke="#3a3a3a" stroke-width="1.1"/>
<line x1="501.86" y1="571.20" x2="501.86" y2="561.30" stroke="#3a3a3a" stroke-width="1.3" />
<line x1="498.26" y1="561.30" x2="505.46" y2="561.30" stroke="#3a3a3a" stroke-width="1.3" />
<rect x="507.86" y="628.70" width="9.3" height="35.80" fill="#000"/>
<line x1="512.51" y1="628.70" x2="512.51" y2="623.40" stroke="#3a3a3a" stroke-width="1.3" />
<line x1="508.91" y1="623.40" x2="516.11" y2="623.40" stroke="#3a3a3a" stroke-width="1.3" />
<text x="512.51" y="625.50" font-size="12.8" text-anchor="middle" fill="#111" stroke="#111" stroke-width="0.2">*</text>
<line x1="496.56" y1="669.50" x2="517.36" y2="669.50" stroke="#2a2a2a" stroke-width="1.1" />
<text x="506.56" y="681.70" font-size="11.0" text-anchor="middle" font-weight="bold" font-style="normal" >P17</text>
<rect x="522.47" y="587.30" width="8.6" height="77.20" fill="#fff" stroke="#3a3a3a" stroke-width="1.1"/>
<line x1="526.77" y1="587.30" x2="526.77" y2="579.30" stroke="#3a3a3a" stroke-width="1.3" />
<line x1="523.17" y1="579.30" x2="530.37" y2="579.30" stroke="#3a3a3a" stroke-width="1.3" />
<rect x="532.77" y="624.30" width="9.3" height="40.20" fill="#000"/>
<line x1="537.42" y1="624.30" x2="537.42" y2="619.80" stroke="#3a3a3a" stroke-width="1.3" />
<line x1="533.82" y1="619.80" x2="541.02" y2="619.80" stroke="#3a3a3a" stroke-width="1.3" />
<text x="537.42" y="621.90" font-size="12.8" text-anchor="middle" fill="#111" stroke="#111" stroke-width="0.2">*</text>
<line x1="521.47" y1="669.50" x2="542.27" y2="669.50" stroke="#2a2a2a" stroke-width="1.1" />
<text x="531.47" y="681.70" font-size="11.0" text-anchor="middle" font-weight="bold" font-style="normal" >P18</text>
<rect x="547.18" y="570.20" width="8.6" height="94.30" fill="#fff" stroke="#3a3a3a" stroke-width="1.1"/>
<line x1="551.48" y1="570.20" x2="551.48" y2="561.70" stroke="#3a3a3a" stroke-width="1.3" />
<line x1="547.88" y1="561.70" x2="555.08" y2="561.70" stroke="#3a3a3a" stroke-width="1.3" />
<rect x="557.48" y="567.60" width="9.3" height="96.90" fill="#000"/>
<line x1="562.13" y1="567.60" x2="562.13" y2="559.40" stroke="#3a3a3a" stroke-width="1.3" />
<line x1="558.53" y1="559.40" x2="565.73" y2="559.40" stroke="#3a3a3a" stroke-width="1.3" />
<line x1="546.18" y1="669.50" x2="566.98" y2="669.50" stroke="#2a2a2a" stroke-width="1.1" />
<text x="556.18" y="681.70" font-size="11.0" text-anchor="middle" font-weight="bold" font-style="normal" >P19</text>
<rect x="571.69" y="603.40" width="8.6" height="61.10" fill="#fff" stroke="#3a3a3a" stroke-width="1.1"/>
<line x1="575.99" y1="603.40" x2="575.99" y2="598.70" stroke="#3a3a3a" stroke-width="1.3" />
<line x1="572.39" y1="598.70" x2="579.59" y2="598.70" stroke="#3a3a3a" stroke-width="1.3" />
<rect x="581.99" y="604.60" width="9.3" height="59.90" fill="#000"/>
<line x1="586.64" y1="604.60" x2="586.64" y2="601.60" stroke="#3a3a3a" stroke-width="1.3" />
<line x1="583.04" y1="601.60" x2="590.24" y2="601.60" stroke="#3a3a3a" stroke-width="1.3" />
<line x1="570.69" y1="669.50" x2="591.49" y2="669.50" stroke="#2a2a2a" stroke-width="1.1" />
<text x="580.69" y="681.70" font-size="11.0" text-anchor="middle" font-weight="bold" font-style="normal" >P20</text>
<rect x="596.50" y="592.60" width="8.6" height="71.90" fill="#fff" stroke="#3a3a3a" stroke-width="1.1"/>
<line x1="600.80" y1="592.60" x2="600.80" y2="587.30" stroke="#3a3a3a" stroke-width="1.3" />
<line x1="597.20" y1="587.30" x2="604.40" y2="587.30" stroke="#3a3a3a" stroke-width="1.3" />
<rect x="606.80" y="596.00" width="9.3" height="68.50" fill="#000"/>
<line x1="611.45" y1="596.00" x2="611.45" y2="591.30" stroke="#3a3a3a" stroke-width="1.3" />
<line x1="607.85" y1="591.30" x2="615.05" y2="591.30" stroke="#3a3a3a" stroke-width="1.3" />
<line x1="595.50" y1="669.50" x2="616.30" y2="669.50" stroke="#2a2a2a" stroke-width="1.1" />
<text x="605.50" y="681.70" font-size="11.0" text-anchor="middle" font-weight="bold" font-style="normal" >P21</text>
<rect x="620.71" y="596.80" width="8.6" height="67.70" fill="#fff" stroke="#3a3a3a" stroke-width="1.1"/>
<line x1="625.01" y1="596.80" x2="625.01" y2="591.10" stroke="#3a3a3a" stroke-width="1.3" />
<line x1="621.41" y1="591.10" x2="628.61" y2="591.10" stroke="#3a3a3a" stroke-width="1.3" />
<rect x="631.01" y="653.00" width="9.3" height="11.50" fill="#000"/>
<line x1="635.66" y1="653.00" x2="635.66" y2="650.00" stroke="#3a3a3a" stroke-width="1.3" />
<line x1="632.06" y1="650.00" x2="639.26" y2="650.00" stroke="#3a3a3a" stroke-width="1.3" />
<text x="635.66" y="652.10" font-size="12.8" text-anchor="middle" fill="#111" stroke="#111" stroke-width="0.2">*</text>
<line x1="619.71" y1="669.50" x2="640.51" y2="669.50" stroke="#2a2a2a" stroke-width="1.1" />
<text x="629.71" y="681.70" font-size="11.0" text-anchor="middle" font-weight="bold" font-style="normal" >P22</text>
<line x1="96.50" y1="527.20" x2="96.50" y2="665.00" stroke="#333" stroke-width="1.1" />
<line x1="92.30" y1="664.50" x2="647.00" y2="664.50" stroke="#222" stroke-width="1.0" />
<text transform="translate(47.7,600.5) rotate(-90)" font-size="11.3" text-anchor="middle" font-weight="bold"><tspan font-style="italic">NORE1A</tspan> mRNA level</text>
<text transform="translate(65.3,600.5) rotate(-90)" font-size="11.3" text-anchor="middle" font-weight="bold">(<tspan font-style="italic">NORE1A/GAPDH</tspan>)</text>
<line x1="92.30" y1="704.20" x2="96.50" y2="704.20" stroke="#333" stroke-width="1.1" />
<text x="89.60" y="708.40" font-size="11.6" text-anchor="end" font-weight="bold" font-style="normal" >2.0</text>
<line x1="92.30" y1="732.20" x2="96.50" y2="732.20" stroke="#333" stroke-width="1.1" />
<text x="89.60" y="736.40" font-size="11.6" text-anchor="end" font-weight="bold" font-style="normal" >1.5</text>
<line x1="92.30" y1="760.50" x2="96.50" y2="760.50" stroke="#333" stroke-width="1.1" />
<text x="89.60" y="764.70" font-size="11.6" text-anchor="end" font-weight="bold" font-style="normal" >1.0</text>
<line x1="92.30" y1="788.90" x2="96.50" y2="788.90" stroke="#333" stroke-width="1.1" />
<text x="89.60" y="793.10" font-size="11.6" text-anchor="end" font-weight="bold" font-style="normal" >0.5</text>
<text x="89.60" y="823.20" font-size="11.6" text-anchor="end" font-weight="bold" font-style="normal" >0.0</text>
<rect x="101.80" y="744.50" width="8.6" height="75.00" fill="#fff" stroke="#3a3a3a" stroke-width="1.1"/>
<line x1="106.10" y1="744.50" x2="106.10" y2="738.40" stroke="#3a3a3a" stroke-width="1.3" />
<line x1="102.50" y1="738.40" x2="109.70" y2="738.40" stroke="#3a3a3a" stroke-width="1.3" />
<rect x="112.10" y="751.30" width="9.3" height="68.20" fill="#000"/>
<line x1="116.75" y1="751.30" x2="116.75" y2="745.60" stroke="#3a3a3a" stroke-width="1.3" />
<line x1="113.15" y1="745.60" x2="120.35" y2="745.60" stroke="#3a3a3a" stroke-width="1.3" />
<line x1="100.80" y1="825.30" x2="121.60" y2="825.30" stroke="#2a2a2a" stroke-width="1.1" />
<text x="110.80" y="837.50" font-size="11.0" text-anchor="middle" font-weight="bold" font-style="normal" >P1</text>
<rect x="126.51" y="752.30" width="8.6" height="67.20" fill="#fff" stroke="#3a3a3a" stroke-width="1.1"/>
<line x1="130.81" y1="752.30" x2="130.81" y2="744.70" stroke="#3a3a3a" stroke-width="1.3" />
<line x1="127.21" y1="744.70" x2="134.41" y2="744.70" stroke="#3a3a3a" stroke-width="1.3" />
<rect x="136.81" y="799.50" width="9.3" height="20.00" fill="#000"/>
<line x1="141.46" y1="799.50" x2="141.46" y2="796.70" stroke="#3a3a3a" stroke-width="1.3" />
<line x1="137.86" y1="796.70" x2="145.06" y2="796.70" stroke="#3a3a3a" stroke-width="1.3" />
<text x="141.46" y="798.80" font-size="12.8" text-anchor="middle" fill="#111" stroke="#111" stroke-width="0.2">*</text>
<line x1="125.51" y1="825.30" x2="146.31" y2="825.30" stroke="#2a2a2a" stroke-width="1.1" />
<text x="135.51" y="837.50" font-size="11.0" text-anchor="middle" font-weight="bold" font-style="normal" >P2</text>
<rect x="151.22" y="752.10" width="8.6" height="67.40" fill="#fff" stroke="#3a3a3a" stroke-width="1.1"/>
<line x1="155.52" y1="752.10" x2="155.52" y2="742.80" stroke="#3a3a3a" stroke-width="1.3" />
<line x1="151.92" y1="742.80" x2="159.12" y2="742.80" stroke="#3a3a3a" stroke-width="1.3" />
<rect x="161.52" y="751.70" width="9.3" height="67.80" fill="#000"/>
<line x1="166.17" y1="751.70" x2="166.17" y2="746.20" stroke="#3a3a3a" stroke-width="1.3" />
<line x1="162.57" y1="746.20" x2="169.77" y2="746.20" stroke="#3a3a3a" stroke-width="1.3" />
<line x1="150.22" y1="825.30" x2="171.02" y2="825.30" stroke="#2a2a2a" stroke-width="1.1" />
<text x="160.22" y="837.50" font-size="11.0" text-anchor="middle" font-weight="bold" font-style="normal" >P3</text>
<rect x="175.93" y="730.80" width="8.6" height="88.70" fill="#fff" stroke="#3a3a3a" stroke-width="1.1"/>
<line x1="180.23" y1="730.80" x2="180.23" y2="722.80" stroke="#3a3a3a" stroke-width="1.3" />
<line x1="176.63" y1="722.80" x2="183.83" y2="722.80" stroke="#3a3a3a" stroke-width="1.3" />
<rect x="186.23" y="752.30" width="9.3" height="67.20" fill="#000"/>
<line x1="190.88" y1="752.30" x2="190.88" y2="746.60" stroke="#3a3a3a" stroke-width="1.3" />
<line x1="187.28" y1="746.60" x2="194.48" y2="746.60" stroke="#3a3a3a" stroke-width="1.3" />
<line x1="174.93" y1="825.30" x2="195.73" y2="825.30" stroke="#2a2a2a" stroke-width="1.1" />
<text x="184.93" y="837.50" font-size="11.0" text-anchor="middle" font-weight="bold" font-style="normal" >P4</text>
<rect x="200.64" y="737.40" width="8.6" height="82.10" fill="#fff" stroke="#3a3a3a" stroke-width="1.1"/>
<line x1="204.94" y1="737.40" x2="204.94" y2="731.40" stroke="#3a3a3a" stroke-width="1.3" />
<line x1="201.34" y1="731.40" x2="208.54" y2="731.40" stroke="#3a3a3a" stroke-width="1.3" />
<rect x="210.94" y="805.20" width="9.3" height="14.30" fill="#000"/>
<line x1="215.59" y1="805.20" x2="215.59" y2="802.50" stroke="#3a3a3a" stroke-width="1.3" />
<line x1="211.99" y1="802.50" x2="219.19" y2="802.50" stroke="#3a3a3a" stroke-width="1.3" />
<text x="215.59" y="804.60" font-size="12.8" text-anchor="middle" fill="#111" stroke="#111" stroke-width="0.2">*</text>
<line x1="199.64" y1="825.30" x2="220.44" y2="825.30" stroke="#2a2a2a" stroke-width="1.1" />
<text x="209.64" y="837.50" font-size="11.0" text-anchor="middle" font-weight="bold" font-style="normal" >P5</text>
<rect x="225.35" y="730.20" width="8.6" height="89.30" fill="#fff" stroke="#3a3a3a" stroke-width="1.1"/>
<line x1="229.65" y1="730.20" x2="229.65" y2="723.20" stroke="#3a3a3a" stroke-width="1.3" />
<line x1="226.05" y1="723.20" x2="233.25" y2="723.20" stroke="#3a3a3a" stroke-width="1.3" />
<rect x="235.65" y="779.60" width="9.3" height="39.90" fill="#000"/>
<line x1="240.30" y1="779.60" x2="240.30" y2="773.50" stroke="#3a3a3a" stroke-width="1.3" />
<line x1="236.70" y1="773.50" x2="243.90" y2="773.50" stroke="#3a3a3a" stroke-width="1.3" />
<text x="240.30" y="775.60" font-size="12.8" text-anchor="middle" fill="#111" stroke="#111" stroke-width="0.2">*</text>
<line x1="224.35" y1="825.30" x2="245.15" y2="825.30" stroke="#2a2a2a" stroke-width="1.1" />
<text x="234.35" y="837.50" font-size="11.0" text-anchor="middle" font-weight="bold" font-style="normal" >P6</text>
<rect x="250.06" y="748.30" width="8.6" height="71.20" fill="#fff" stroke="#3a3a3a" stroke-width="1.1"/>
<line x1="254.36" y1="748.30" x2="254.36" y2="741.60" stroke="#3a3a3a" stroke-width="1.3" />
<line x1="250.76" y1="741.60" x2="257.96" y2="741.60" stroke="#3a3a3a" stroke-width="1.3" />
<rect x="260.36" y="769.10" width="9.3" height="50.40" fill="#000"/>
<line x1="265.01" y1="769.10" x2="265.01" y2="764.60" stroke="#3a3a3a" stroke-width="1.3" />
<line x1="261.41" y1="764.60" x2="268.61" y2="764.60" stroke="#3a3a3a" stroke-width="1.3" />
<line x1="249.06" y1="825.30" x2="269.86" y2="825.30" stroke="#2a2a2a" stroke-width="1.1" />
<text x="259.06" y="837.50" font-size="11.0" text-anchor="middle" font-weight="bold" font-style="normal" >P7</text>
<rect x="274.77" y="748.30" width="8.6" height="71.20" fill="#fff" stroke="#3a3a3a" stroke-width="1.1"/>
<line x1="279.07" y1="748.30" x2="279.07" y2="739.70" stroke="#3a3a3a" stroke-width="1.3" />
<line x1="275.47" y1="739.70" x2="282.67" y2="739.70" stroke="#3a3a3a" stroke-width="1.3" />
<rect x="285.07" y="805.20" width="9.3" height="14.30" fill="#000"/>
<line x1="289.72" y1="805.20" x2="289.72" y2="800.50" stroke="#3a3a3a" stroke-width="1.3" />
<line x1="286.12" y1="800.50" x2="293.32" y2="800.50" stroke="#3a3a3a" stroke-width="1.3" />
<text x="289.72" y="802.60" font-size="12.8" text-anchor="middle" fill="#111" stroke="#111" stroke-width="0.2">*</text>
<line x1="273.77" y1="825.30" x2="294.57" y2="825.30" stroke="#2a2a2a" stroke-width="1.1" />
<text x="283.77" y="837.50" font-size="11.0" text-anchor="middle" font-weight="bold" font-style="normal" >P8</text>
<rect x="299.48" y="755.50" width="8.6" height="64.00" fill="#fff" stroke="#3a3a3a" stroke-width="1.1"/>
<line x1="303.78" y1="755.50" x2="303.78" y2="748.80" stroke="#3a3a3a" stroke-width="1.3" />
<line x1="300.18" y1="748.80" x2="307.38" y2="748.80" stroke="#3a3a3a" stroke-width="1.3" />
<rect x="309.78" y="794.40" width="9.3" height="25.10" fill="#000"/>
<line x1="314.43" y1="794.40" x2="314.43" y2="791.50" stroke="#3a3a3a" stroke-width="1.3" />
<line x1="310.83" y1="791.50" x2="318.03" y2="791.50" stroke="#3a3a3a" stroke-width="1.3" />
<text x="314.43" y="793.60" font-size="12.8" text-anchor="middle" fill="#111" stroke="#111" stroke-width="0.2">*</text>
<line x1="298.48" y1="825.30" x2="319.28" y2="825.30" stroke="#2a2a2a" stroke-width="1.1" />
<text x="308.48" y="837.50" font-size="11.0" text-anchor="middle" font-weight="bold" font-style="normal" >P9</text>
<rect x="324.19" y="748.30" width="8.6" height="71.20" fill="#fff" stroke="#3a3a3a" stroke-width="1.1"/>
<line x1="328.49" y1="748.30" x2="328.49" y2="741.20" stroke="#3a3a3a" stroke-width="1.3" />
<line x1="324.89" y1="741.20" x2="332.09" y2="741.20" stroke="#3a3a3a" stroke-width="1.3" />
<rect x="334.49" y="751.30" width="9.3" height="68.20" fill="#000"/>
<line x1="339.14" y1="751.30" x2="339.14" y2="744.50" stroke="#3a3a3a" stroke-width="1.3" />
<line x1="335.54" y1="744.50" x2="342.74" y2="744.50" stroke="#3a3a3a" stroke-width="1.3" />
<line x1="323.19" y1="825.30" x2="343.99" y2="825.30" stroke="#2a2a2a" stroke-width="1.1" />
<text x="333.19" y="837.50" font-size="11.0" text-anchor="middle" font-weight="bold" font-style="normal" >P10</text>
<rect x="348.90" y="755.50" width="8.6" height="64.00" fill="#fff" stroke="#3a3a3a" stroke-width="1.1"/>
<line x1="353.20" y1="755.50" x2="353.20" y2="748.30" stroke="#3a3a3a" stroke-width="1.3" />
<line x1="349.60" y1="748.30" x2="356.80" y2="748.30" stroke="#3a3a3a" stroke-width="1.3" />
<rect x="359.20" y="754.90" width="9.3" height="64.60" fill="#000"/>
<line x1="363.85" y1="754.90" x2="363.85" y2="748.30" stroke="#3a3a3a" stroke-width="1.3" />
<line x1="360.25" y1="748.30" x2="367.45" y2="748.30" stroke="#3a3a3a" stroke-width="1.3" />
<line x1="347.90" y1="825.30" x2="368.70" y2="825.30" stroke="#2a2a2a" stroke-width="1.1" />
<text x="357.90" y="837.50" font-size="11.0" text-anchor="middle" font-weight="bold" font-style="normal" >P11</text>
<rect x="373.61" y="730.20" width="8.6" height="89.30" fill="#fff" stroke="#3a3a3a" stroke-width="1.1"/>
<line x1="377.91" y1="730.20" x2="377.91" y2="719.80" stroke="#3a3a3a" stroke-width="1.3" />
<line x1="374.31" y1="719.80" x2="381.51" y2="719.80" stroke="#3a3a3a" stroke-width="1.3" />
<rect x="383.91" y="729.90" width="9.3" height="89.60" fill="#000"/>
<line x1="388.56" y1="729.90" x2="388.56" y2="720.70" stroke="#3a3a3a" stroke-width="1.3" />
<line x1="384.96" y1="720.70" x2="392.16" y2="720.70" stroke="#3a3a3a" stroke-width="1.3" />
<line x1="372.61" y1="825.30" x2="393.41" y2="825.30" stroke="#2a2a2a" stroke-width="1.1" />
<text x="382.61" y="837.50" font-size="11.0" text-anchor="middle" font-weight="bold" font-style="normal" >P12</text>
<rect x="398.32" y="730.40" width="8.6" height="89.10" fill="#fff" stroke="#3a3a3a" stroke-width="1.1"/>
<line x1="402.62" y1="730.40" x2="402.62" y2="722.30" stroke="#3a3a3a" stroke-width="1.3" />
<line x1="399.02" y1="722.30" x2="406.22" y2="722.30" stroke="#3a3a3a" stroke-width="1.3" />
<rect x="408.62" y="733.30" width="9.3" height="86.20" fill="#000"/>
<line x1="413.27" y1="733.30" x2="413.27" y2="725.50" stroke="#3a3a3a" stroke-width="1.3" />
<line x1="409.67" y1="725.50" x2="416.87" y2="725.50" stroke="#3a3a3a" stroke-width="1.3" />
<line x1="397.32" y1="825.30" x2="418.12" y2="825.30" stroke="#2a2a2a" stroke-width="1.1" />
<text x="407.32" y="837.50" font-size="11.0" text-anchor="middle" font-weight="bold" font-style="normal" >P13</text>
<rect x="423.03" y="751.70" width="8.6" height="67.80" fill="#fff" stroke="#3a3a3a" stroke-width="1.1"/>
<line x1="427.33" y1="751.70" x2="427.33" y2="746.40" stroke="#3a3a3a" stroke-width="1.3" />
<line x1="423.73" y1="746.40" x2="430.93" y2="746.40" stroke="#3a3a3a" stroke-width="1.3" />
<rect x="433.33" y="744.50" width="9.3" height="75.00" fill="#000"/>
<line x1="437.98" y1="744.50" x2="437.98" y2="738.40" stroke="#3a3a3a" stroke-width="1.3" />
<line x1="434.38" y1="738.40" x2="441.58" y2="738.40" stroke="#3a3a3a" stroke-width="1.3" />
<line x1="422.03" y1="825.30" x2="442.83" y2="825.30" stroke="#2a2a2a" stroke-width="1.1" />
<text x="432.03" y="837.50" font-size="11.0" text-anchor="middle" font-weight="bold" font-style="normal" >P14</text>
<rect x="447.74" y="739.00" width="8.6" height="80.50" fill="#fff" stroke="#3a3a3a" stroke-width="1.1"/>
<line x1="452.04" y1="739.00" x2="452.04" y2="730.20" stroke="#3a3a3a" stroke-width="1.3" />
<line x1="448.44" y1="730.20" x2="455.64" y2="730.20" stroke="#3a3a3a" stroke-width="1.3" />
<rect x="458.04" y="742.60" width="9.3" height="76.90" fill="#000"/>
<line x1="462.69" y1="742.60" x2="462.69" y2="734.80" stroke="#3a3a3a" stroke-width="1.3" />
<line x1="459.09" y1="734.80" x2="466.29" y2="734.80" stroke="#3a3a3a" stroke-width="1.3" />
<line x1="446.74" y1="825.30" x2="467.54" y2="825.30" stroke="#2a2a2a" stroke-width="1.1" />
<text x="456.74" y="837.50" font-size="11.0" text-anchor="middle" font-weight="bold" font-style="normal" >P15</text>
<rect x="472.75" y="733.70" width="8.6" height="85.80" fill="#fff" stroke="#3a3a3a" stroke-width="1.1"/>
<line x1="477.05" y1="733.70" x2="477.05" y2="725.50" stroke="#3a3a3a" stroke-width="1.3" />
<line x1="473.45" y1="725.50" x2="480.65" y2="725.50" stroke="#3a3a3a" stroke-width="1.3" />
<rect x="483.05" y="731.80" width="9.3" height="87.70" fill="#000"/>
<line x1="487.70" y1="731.80" x2="487.70" y2="721.30" stroke="#3a3a3a" stroke-width="1.3" />
<line x1="484.10" y1="721.30" x2="491.30" y2="721.30" stroke="#3a3a3a" stroke-width="1.3" />
<line x1="471.75" y1="825.30" x2="492.55" y2="825.30" stroke="#2a2a2a" stroke-width="1.1" />
<text x="481.75" y="837.50" font-size="11.0" text-anchor="middle" font-weight="bold" font-style="normal" >P16</text>
<rect x="497.56" y="744.50" width="8.6" height="75.00" fill="#fff" stroke="#3a3a3a" stroke-width="1.1"/>
<line x1="501.86" y1="744.50" x2="501.86" y2="738.40" stroke="#3a3a3a" stroke-width="1.3" />
<line x1="498.26" y1="738.40" x2="505.46" y2="738.40" stroke="#3a3a3a" stroke-width="1.3" />
<rect x="507.86" y="791.50" width="9.3" height="28.00" fill="#000"/>
<line x1="512.51" y1="791.50" x2="512.51" y2="786.40" stroke="#3a3a3a" stroke-width="1.3" />
<line x1="508.91" y1="786.40" x2="516.11" y2="786.40" stroke="#3a3a3a" stroke-width="1.3" />
<text x="512.51" y="788.50" font-size="12.8" text-anchor="middle" fill="#111" stroke="#111" stroke-width="0.2">*</text>
<line x1="496.56" y1="825.30" x2="517.36" y2="825.30" stroke="#2a2a2a" stroke-width="1.1" />
<text x="506.56" y="837.50" font-size="11.0" text-anchor="middle" font-weight="bold" font-style="normal" >P17</text>
<rect x="522.47" y="731.40" width="8.6" height="88.10" fill="#fff" stroke="#3a3a3a" stroke-width="1.1"/>
<line x1="526.77" y1="731.40" x2="526.77" y2="724.50" stroke="#3a3a3a" stroke-width="1.3" />
<line x1="523.17" y1="724.50" x2="530.37" y2="724.50" stroke="#3a3a3a" stroke-width="1.3" />
<rect x="532.77" y="754.50" width="9.3" height="65.00" fill="#000"/>
<line x1="537.42" y1="754.50" x2="537.42" y2="746.40" stroke="#3a3a3a" stroke-width="1.3" />
<line x1="533.82" y1="746.40" x2="541.02" y2="746.40" stroke="#3a3a3a" stroke-width="1.3" />
<line x1="521.47" y1="825.30" x2="542.27" y2="825.30" stroke="#2a2a2a" stroke-width="1.1" />
<text x="531.47" y="837.50" font-size="11.0" text-anchor="middle" font-weight="bold" font-style="normal" >P18</text>
<rect x="547.18" y="750.40" width="8.6" height="69.10" fill="#fff" stroke="#3a3a3a" stroke-width="1.1"/>
<line x1="551.48" y1="750.40" x2="551.48" y2="743.50" stroke="#3a3a3a" stroke-width="1.3" />
<line x1="547.88" y1="743.50" x2="555.08" y2="743.50" stroke="#3a3a3a" stroke-width="1.3" />
<rect x="557.48" y="744.10" width="9.3" height="75.40" fill="#000"/>
<line x1="562.13" y1="744.10" x2="562.13" y2="735.90" stroke="#3a3a3a" stroke-width="1.3" />
<line x1="558.53" y1="735.90" x2="565.73" y2="735.90" stroke="#3a3a3a" stroke-width="1.3" />
<line x1="546.18" y1="825.30" x2="566.98" y2="825.30" stroke="#2a2a2a" stroke-width="1.1" />
<text x="556.18" y="837.50" font-size="11.0" text-anchor="middle" font-weight="bold" font-style="normal" >P19</text>
<rect x="571.69" y="748.30" width="8.6" height="71.20" fill="#fff" stroke="#3a3a3a" stroke-width="1.1"/>
<line x1="575.99" y1="748.30" x2="575.99" y2="739.70" stroke="#3a3a3a" stroke-width="1.3" />
<line x1="572.39" y1="739.70" x2="579.59" y2="739.70" stroke="#3a3a3a" stroke-width="1.3" />
<rect x="581.99" y="756.40" width="9.3" height="63.10" fill="#000"/>
<line x1="586.64" y1="756.40" x2="586.64" y2="749.40" stroke="#3a3a3a" stroke-width="1.3" />
<line x1="583.04" y1="749.40" x2="590.24" y2="749.40" stroke="#3a3a3a" stroke-width="1.3" />
<line x1="570.69" y1="825.30" x2="591.49" y2="825.30" stroke="#2a2a2a" stroke-width="1.1" />
<text x="580.69" y="837.50" font-size="11.0" text-anchor="middle" font-weight="bold" font-style="normal" >P20</text>
<rect x="596.50" y="737.40" width="8.6" height="82.10" fill="#fff" stroke="#3a3a3a" stroke-width="1.1"/>
<line x1="600.80" y1="737.40" x2="600.80" y2="729.50" stroke="#3a3a3a" stroke-width="1.3" />
<line x1="597.20" y1="729.50" x2="604.40" y2="729.50" stroke="#3a3a3a" stroke-width="1.3" />
<rect x="606.80" y="740.90" width="9.3" height="78.60" fill="#000"/>
<line x1="611.45" y1="740.90" x2="611.45" y2="733.30" stroke="#3a3a3a" stroke-width="1.3" />
<line x1="607.85" y1="733.30" x2="615.05" y2="733.30" stroke="#3a3a3a" stroke-width="1.3" />
<line x1="595.50" y1="825.30" x2="616.30" y2="825.30" stroke="#2a2a2a" stroke-width="1.1" />
<text x="605.50" y="837.50" font-size="11.0" text-anchor="middle" font-weight="bold" font-style="normal" >P21</text>
<rect x="620.71" y="730.20" width="8.6" height="89.30" fill="#fff" stroke="#3a3a3a" stroke-width="1.1"/>
<line x1="625.01" y1="730.20" x2="625.01" y2="723.60" stroke="#3a3a3a" stroke-width="1.3" />
<line x1="621.41" y1="723.60" x2="628.61" y2="723.60" stroke="#3a3a3a" stroke-width="1.3" />
<rect x="631.01" y="780.10" width="9.3" height="39.40" fill="#000"/>
<line x1="635.66" y1="780.10" x2="635.66" y2="772.90" stroke="#3a3a3a" stroke-width="1.3" />
<line x1="632.06" y1="772.90" x2="639.26" y2="772.90" stroke="#3a3a3a" stroke-width="1.3" />
<text x="635.66" y="775.00" font-size="12.8" text-anchor="middle" fill="#111" stroke="#111" stroke-width="0.2">*</text>
<line x1="619.71" y1="825.30" x2="640.51" y2="825.30" stroke="#2a2a2a" stroke-width="1.1" />
<text x="629.71" y="837.50" font-size="11.0" text-anchor="middle" font-weight="bold" font-style="normal" >P22</text>
<line x1="96.50" y1="690.20" x2="96.50" y2="820.00" stroke="#333" stroke-width="1.1" />
<line x1="92.30" y1="819.50" x2="647.00" y2="819.50" stroke="#222" stroke-width="1.0" />
<text transform="translate(47.7,754.7) rotate(-90)" font-size="11.3" text-anchor="middle" font-weight="bold"><tspan font-style="italic">NORE1B</tspan> mRNA level</text>
<text transform="translate(65.3,754.7) rotate(-90)" font-size="11.3" text-anchor="middle" font-weight="bold">(<tspan font-style="italic">NORE1B/GAPDH</tspan>)</text>
<rect x="102.9" y="528.9" width="6.5" height="6.1" fill="#fff" stroke="#222" stroke-width="1.1"/>
<text x="114.50" y="535.80" font-size="11.4" text-anchor="start" font-weight="bold" font-style="normal" >Normal</text>
<rect x="102.3" y="540.1" width="7.6" height="7.3" fill="#000"/>
<text x="114.50" y="547.60" font-size="11.4" text-anchor="start" font-weight="bold" font-style="normal" >Tumor</text>
</svg>
</body></html>
